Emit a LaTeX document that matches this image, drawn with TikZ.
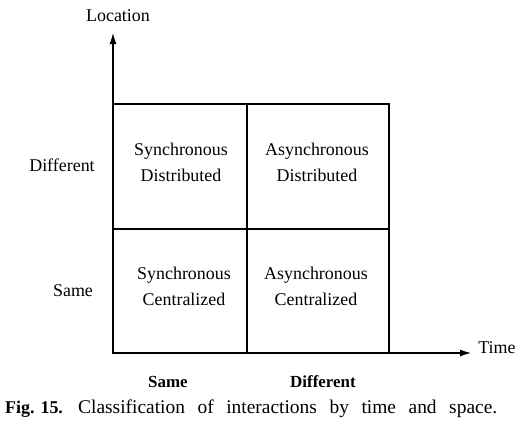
\documentclass[tikz,border=0pt]{standalone}
\usepackage{fontspec}
\setmainfont{Liberation Serif}
\usetikzlibrary{arrows.meta}
\begin{document}
\begin{tikzpicture}[x=1bp,y=-1bp,
  lbl/.style={font=\fontsize{18}{21}\selectfont, inner sep=0pt},
  cell/.style={font=\fontsize{18}{26}\selectfont, align=center, inner sep=0pt},
  axis/.style={line width=1.2bp, -{Latex[length=11bp,width=7bp]}},
  grid/.style={line width=1.2bp}]
\useasboundingbox (0,0) rectangle (526,430);
\coordinate (O) at (113,353);
\coordinate (Ytop) at (113,33);
\coordinate (Xend) at (471,353);
\draw[axis] (O) -- (Ytop);
\draw[axis] (O) -- (Xend);
\draw[grid] (113,104) rectangle (389,353);
\draw[grid] (113,229) -- (389,229);
\draw[grid] (247,104) -- (247,353);
\node[lbl] (loc) at (118,16) {Location};
\node[lbl] (time) at (497,348) {Time};
\node[lbl] (ydiff) at (62,165) {Different};
\node[lbl] (ysame) at (73,291) {Same};
\node[lbl,font=\fontsize{17}{20}\selectfont\bfseries] (xsame) at (168,382) {Same};
\node[lbl,font=\fontsize{17}{20}\selectfont\bfseries] (xdiff) at (323,382) {Different};
\node[cell] (sd) at (181,162) {Synchronous\\Distributed};
\node[cell] (ad) at (317,162) {Asynchronous\\Distributed};
\node[cell] (sc) at (184,286) {Synchronous\\Centralized};
\node[cell] (ac) at (316,286) {Asynchronous\\Centralized};
\node[lbl, anchor=west] (fig) at (5,409) {\textbf{Fig. 15.}};
\node[lbl, anchor=west, font=\fontsize{19.5}{22}\selectfont] (cap) at (78,409) {\makebox[419bp][s]{Classification of interactions by time and space.}};
\end{tikzpicture}
\end{document}
